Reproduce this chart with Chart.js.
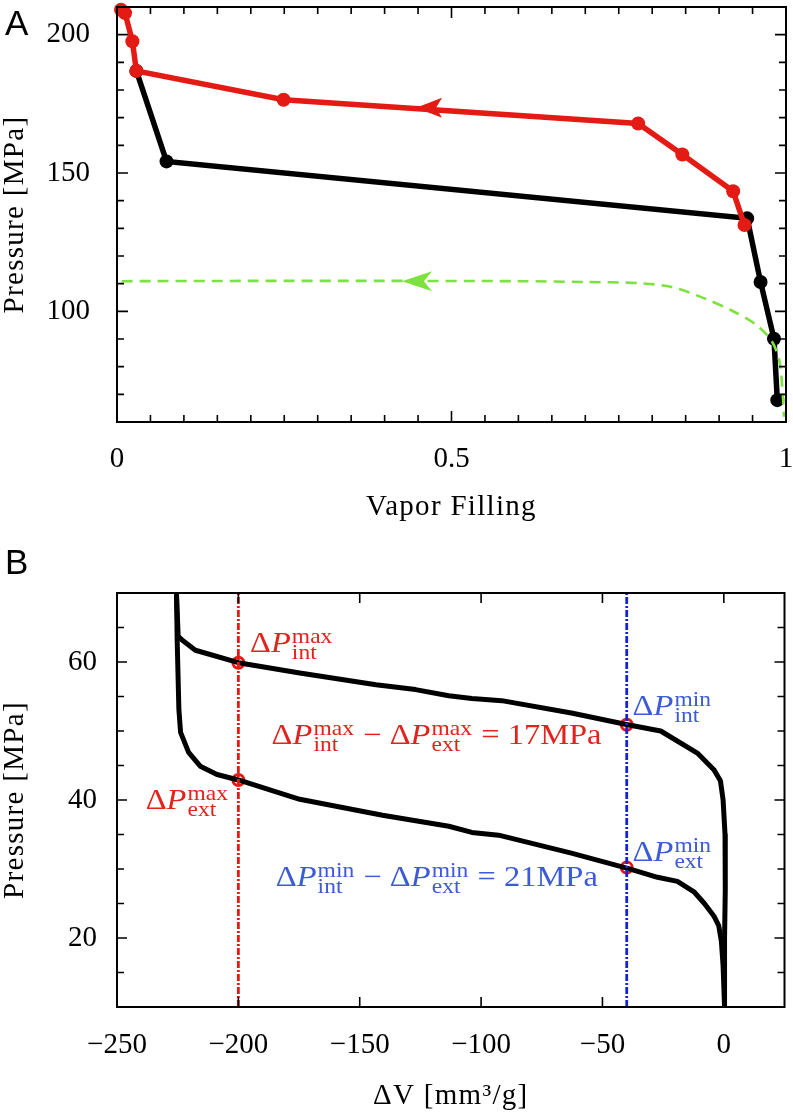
<!DOCTYPE html>
<html>
<head>
<meta charset="utf-8">
<script src="https://cdn.jsdelivr.net/npm/chart.js@4.4.1/dist/chart.umd.min.js"></script>
<style>
	body { margin: 0; background: #fff; }
	canvas { position: absolute; left: 0; }
</style>
</head>
<body>
<canvas id="chartA" width="793" height="540" style="top:0px"></canvas>
<canvas id="chartB" width="793" height="575" style="top:540px"></canvas>
<script>
// Panel A : pressure vs vapor filling
var fillBlack = [0.029, 0.074, 0.942, 0.962, 0.982, 0.987];
var presBlack = [186.9, 154.2, 133.6, 110.6, 90.1, 67.9];
var fillRed = [0.006, 0.012, 0.023, 0.029, 0.249, 0.779, 0.845, 0.921, 0.938];
var presRed = [209.0, 207.8, 197.6, 186.9, 176.5, 167.9, 156.7, 143.4, 131.2];
var fillGreen = [0.007, 0.2, 0.4, 0.6, 0.7, 0.779, 0.829, 0.879, 0.918, 0.953, 0.978, 0.990, 0.995, 0.997];
var presGreen = [110.9, 111.0, 111.0, 110.9, 110.6, 110.2, 108.8, 104.6, 100.4, 95.6, 89.5, 82.3, 70.3, 61.9];
var arrowRed = [0.447, 173.6];
var arrowGreen = [0.426, 110.9];
var xTicksA = [0, 0.5, 1];
var yTicksA = [100, 150, 200];

// Panel B : pressure vs volume change
var dvUpper = [-225.5, -224.8, -223.2, -217.7, -200, -174.7, -143.3, -127, -113.3, -103.8, -91.5, -62.8, -39.6, -26, -10.9, -4.1, -1.4, -0.3, 0.5, 0.6, 0.3, 0.3];
var pUpper = [70, 63.7, 63.2, 61.7, 59.9, 58.4, 56.7, 56.0, 55.1, 54.7, 54.4, 52.6, 50.9, 50.0, 46.8, 44.4, 42.8, 40.0, 35, 27, 20, 10];
var dvLower = [-225.5, -225.2, -224.5, -223.8, -220.5, -215.7, -208.8, -200, -174.7, -140.6, -113.3, -103.8, -92.8, -62.8, -39.6, -27.3, -19.1, -12.3, -8.0, -4.1, -2.1, -1.0, -0.3, 0.3];
var pLower = [70, 63, 53.1, 49.8, 46.9, 44.9, 43.7, 42.9, 40.1, 37.8, 36.2, 35.3, 34.9, 32.3, 30.1, 28.8, 28.2, 26.7, 25.0, 23.2, 21.8, 19.5, 16.0, 10];
var markDv = [-200, -200, -40, -40];
var markP = [59.9, 42.9, 50.9, 30.2];
var dvMax = -200;
var dvMin = -40;
var xTicksB = [-250, -200, -150, -100, -50, 0];
var yTicksB = [20, 40, 60];

var RED = '#e41a14';
var TXT_RED = '#e2231c';
var BLUE_LINE = '#1522d6';
var TXT_BLUE = '#3d5bd6';
var GREEN = '#7de23d';
var SERIF = '"Liberation Serif", "Times New Roman", serif';

function pts(xs, ys)
{
	var out = [];
	for (var i = 0; i < xs.length; i++) out.push({x: xs[i], y: ys[i]});
	return out;
}

// math-ish label: list of pieces, {t, it} or {sup, sub}
function drawMath(ctx, x, y, pieces, color)
{
	ctx.save();
	ctx.translate(x, y);
	ctx.scale(1.12, 1);
	ctx.fillStyle = color;
	ctx.textAlign = 'left';
	ctx.textBaseline = 'alphabetic';
	var cx = 0;
	pieces.forEach(function(p)
	{
		if (p.sup !== undefined)
		{
			ctx.font = '21px ' + SERIF;
			ctx.fillText(p.sup, cx + 1, -9);
			ctx.fillText(p.sub, cx + 1, 7);
			cx += Math.max(ctx.measureText(p.sup).width, ctx.measureText(p.sub).width) + 2;
		}
		else
		{
			ctx.font = (p.it ? 'italic ' : '') + '29px ' + SERIF;
			ctx.fillText(p.t, cx, 0);
			cx += ctx.measureText(p.t).width;
		}
	});
	ctx.restore();
}

function dP(sub, sup)
{
	return [{t: '\u0394'}, {t: 'P', it: true}, {sup: sup, sub: sub}];
}

var labelsB = [
	{x: -195.2, y: 61.5, color: TXT_RED, pieces: dP('int', 'max')},
	{x: -238.2, y: 38.7, color: TXT_RED, pieces: dP('ext', 'max')},
	{x: -186.3, y: 48.1, color: TXT_RED, pieces: dP('int', 'max').concat([{t: ' \u2212 '}], dP('ext', 'max'), [{t: ' = 17MPa'}])},
	{x: -37.6, y: 52.3, color: TXT_BLUE, pieces: dP('int', 'min')},
	{x: -37.6, y: 31.2, color: TXT_BLUE, pieces: dP('ext', 'min')},
	{x: -184.6, y: 27.6, color: TXT_BLUE, pieces: dP('int', 'min').concat([{t: ' \u2212 '}], dP('ext', 'min'), [{t: ' = 21MPa'}])}
];

// frame, inward ticks on all four sides, arrows, titles, letters and labels
var decorPlugin = {
	id: 'decor',
	afterDraw: function(chart, args, opts)
	{
		var ctx = chart.ctx, a = chart.chartArea;
		var xs = chart.scales.x, ys = chart.scales.y;
		ctx.save();
		ctx.strokeStyle = '#000';
		ctx.lineWidth = 1.6;
		var i, v, px, len;
		var nx = Math.round((xs.max - xs.min) / opts.xStep);
		for (i = 1; i < nx; i++)
		{
			v = xs.min + i * opts.xStep;
			px = xs.getPixelForValue(v);
			len = opts.xMajor.some(function(m) { return Math.abs(m - v) < 1e-6; }) ? opts.majorLen : opts.minorLen;
			ctx.beginPath();
			ctx.moveTo(px, a.bottom); ctx.lineTo(px, a.bottom - len);
			ctx.moveTo(px, a.top); ctx.lineTo(px, a.top + len);
			ctx.stroke();
		}
		var ny = Math.round((ys.max - ys.min) / opts.yStep);
		for (i = 1; i < ny; i++)
		{
			v = ys.min + i * opts.yStep;
			px = ys.getPixelForValue(v);
			len = opts.yMajor.some(function(m) { return Math.abs(m - v) < 1e-6; }) ? opts.majorLen : opts.minorLen;
			ctx.beginPath();
			ctx.moveTo(a.left, px); ctx.lineTo(a.left + len, px);
			ctx.moveTo(a.right, px); ctx.lineTo(a.right - len, px);
			ctx.stroke();
		}
		ctx.lineWidth = 2;
		ctx.strokeRect(a.left, a.top, a.right - a.left, a.bottom - a.top);

		//arrow heads pointing left
		(opts.arrows || []).forEach(function(ar)
		{
			var tx = xs.getPixelForValue(ar.at[0]), ty = ys.getPixelForValue(ar.at[1]);
			ctx.fillStyle = ar.color;
			ctx.beginPath();
			ctx.moveTo(tx, ty);
			ctx.lineTo(tx + ar.len, ty - ar.half);
			ctx.lineTo(tx + ar.len - ar.notch, ty);
			ctx.lineTo(tx + ar.len, ty + ar.half);
			ctx.closePath();
			ctx.fill();
		});

		(opts.labels || []).forEach(function(l)
		{
			drawMath(ctx, xs.getPixelForValue(l.x), ys.getPixelForValue(l.y), l.pieces, l.color);
		});

		//axis titles, a bit spaced out like the original serif font
		ctx.fillStyle = '#000';
		ctx.font = '29px ' + SERIF;
		ctx.letterSpacing = '1.3px';
		ctx.textAlign = 'center';
		ctx.textBaseline = 'middle';
		ctx.fillText(opts.xTitle, (a.left + a.right) / 2, opts.xTitleY);
		ctx.save();
		ctx.translate(15, (a.top + a.bottom) / 2);
		ctx.rotate(-Math.PI / 2);
		ctx.fillText(opts.yTitle, 0, 0);
		ctx.restore();
		ctx.letterSpacing = '0px';

		ctx.font = '35px "Liberation Sans", Arial, sans-serif';
		ctx.textAlign = 'left';
		ctx.textBaseline = 'alphabetic';
		ctx.fillText(opts.letter, 5, opts.letterY);
		ctx.restore();
	}
};

function minusFmt(v)
{
	return String(v).replace('-', '\u2212');
}

function noPad(s)
{
	s.paddingTop = 0;
	s.paddingBottom = 0;
	s.paddingLeft = 0;
	s.paddingRight = 0;
}

function axisX(tickVals, min, max, h, labelPad)
{
	return {
		type: 'linear', position: 'bottom', min: min, max: max,
		grid: {display: false, drawTicks: false},
		border: {display: false},
		afterBuildTicks: function(s) { s.ticks = tickVals.map(function(v) { return {value: v}; }); },
		afterFit: function(s) { s.height = h; noPad(s); },
		ticks: {color: '#000', padding: labelPad, maxRotation: 0, autoSkip: false, font: {family: SERIF, size: 29}, callback: minusFmt}
	};
}

function axisY(tickVals, min, max, labelPad)
{
	return {
		type: 'linear', position: 'left', min: min, max: max,
		grid: {display: false, drawTicks: false},
		border: {display: false},
		afterBuildTicks: function(s) { s.ticks = tickVals.map(function(v) { return {value: v}; }); },
		afterFit: function(s) { s.width = 117; noPad(s); },
		ticks: {color: '#000', padding: labelPad, autoSkip: false, font: {family: SERIF, size: 29}, callback: minusFmt}
	};
}

var chartA = new Chart(document.getElementById('chartA'), {
	type: 'scatter',
	data: {
		datasets: [
			{
				data: pts(fillGreen, presGreen), showLine: true, borderColor: GREEN, borderWidth: 2.6,
				borderDash: [11, 7], pointRadius: 0, tension: 0.3, clip: false
			},
			{
				data: pts(fillRed, presRed), showLine: true, borderColor: RED, backgroundColor: RED,
				borderWidth: 5.5, pointRadius: 7, pointBorderWidth: 0, clip: false
			},
			{
				data: pts(fillBlack, presBlack), showLine: true, borderColor: '#000', backgroundColor: '#000',
				borderWidth: 5.5, pointRadius: 7, pointBorderWidth: 0, clip: false
			}
		]
	},
	options: {
		responsive: false,
		animation: false,
		layout: {padding: {top: 6, right: 5, left: 0, bottom: 0}},
		plugins: {
			legend: {display: false},
			tooltip: {enabled: false},
			decor: {
				xStep: 0.05, yStep: 10, xMajor: xTicksA, yMajor: yTicksA, majorLen: 11, minorLen: 7,
				letter: 'A', letterY: 35,
				xTitle: 'Vapor Filling', xTitleY: 507, yTitle: 'Pressure [MPa]',
				arrows: [
					{at: arrowRed, color: RED, len: 26, half: 10, notch: 6},
					{at: arrowGreen, color: GREEN, len: 30, half: 10, notch: 8}
				]
			}
		},
		scales: {
			x: axisX(xTicksA, 0, 1, 118, 19.6),
			y: axisY(yTicksA, 60, 210, 27)
		}
	},
	plugins: [decorPlugin]
});

var chartB = new Chart(document.getElementById('chartB'), {
	type: 'scatter',
	data: {
		datasets: [
			{
				data: pts([dvMax, dvMax], [10, 70]), showLine: true, borderColor: RED, borderWidth: 2.8,
				borderDash: [7, 2, 2, 2], pointRadius: 0
			},
			{
				data: pts([dvMin, dvMin], [10, 70]), showLine: true, borderColor: BLUE_LINE, borderWidth: 2.8,
				borderDash: [7, 2, 2, 2], pointRadius: 0
			},
			{
				data: pts(dvUpper, pUpper), showLine: true, borderColor: '#000', borderWidth: 5,
				borderJoinStyle: 'round', pointRadius: 0, tension: 0
			},
			{
				data: pts(dvLower, pLower), showLine: true, borderColor: '#000', borderWidth: 5,
				borderJoinStyle: 'round', pointRadius: 0, tension: 0
			},
			{
				data: pts(markDv, markP), showLine: false, borderColor: RED, backgroundColor: 'rgba(0,0,0,0)',
				pointRadius: 5.5, pointBorderWidth: 3
			}
		]
	},
	options: {
		responsive: false,
		animation: false,
		layout: {padding: {top: 53, right: 5, left: 0, bottom: 0}},
		plugins: {
			legend: {display: false},
			tooltip: {enabled: false},
			decor: {
				xStep: 50, yStep: 5, xMajor: xTicksB, yMajor: yTicksB, majorLen: 10, minorLen: 7,
				letter: 'B', letterY: 34,
				xTitle: '\u0394V [mm\u00b3/g]', xTitleY: 556, yTitle: 'Pressure [MPa]',
				labels: labelsB
			}
		},
		scales: {
			x: axisX(xTicksB, -250, 25, 108, 20.6),
			y: axisY(yTicksB, 10, 70, 20)
		}
	},
	plugins: [decorPlugin]
});
</script>
</body>
</html>
